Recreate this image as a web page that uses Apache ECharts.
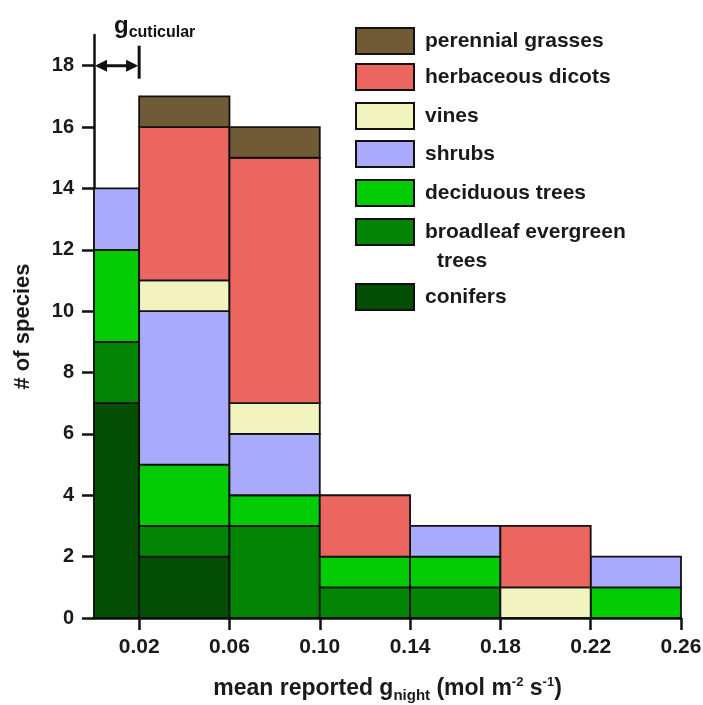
<!DOCTYPE html>
<html>
<head>
<meta charset="utf-8">
<script src="https://cdn.jsdelivr.net/npm/echarts@6/dist/echarts.min.js"></script>
<style>html,body{margin:0;padding:0;background:#fff;}#c{width:703px;height:705px;}</style>
</head>
<body>
<div id="c"></div>
<script>
// Bin edges (mol m-2 s-1)
const binStart = [0, 0.02, 0.06, 0.10, 0.14, 0.18, 0.22];
const binEnd   = [0.02, 0.06, 0.10, 0.14, 0.18, 0.22, 0.26];
// Species counts per bin, by type (stack order bottom -> top)
const conifers   = [7, 2, 0, 0, 0, 0, 0];
const broadleaf  = [2, 1, 3, 1, 1, 0, 0];
const deciduous  = [3, 2, 1, 1, 1, 0, 1];
const shrubs     = [2, 5, 2, 0, 1, 0, 1];
const vines      = [0, 1, 1, 0, 0, 1, 0];
const herbaceous = [0, 5, 8, 2, 0, 2, 0];
const grasses    = [0, 1, 1, 0, 0, 0, 0];
// Tick labels
const xTicks = [0.02, 0.06, 0.10, 0.14, 0.18, 0.22, 0.26];
const yTicks = [0, 2, 4, 6, 8, 10, 12, 14, 16, 18];
// g_cuticular annotation range
const cuticularRange = [0, 0.02];
const cuticularY = 18;

const FONT = 'Liberation Sans, Arial, sans-serif';

const types = [
  {name: 'conifers', label: 'conifers', values: conifers, color: '#044d04'},
  {name: 'broadleaf evergreen trees', label: 'broadleaf evergreen', label2: 'trees', values: broadleaf, color: '#048404'},
  {name: 'deciduous trees', label: 'deciduous trees', values: deciduous, color: '#04cc04'},
  {name: 'shrubs', label: 'shrubs', values: shrubs, color: '#aaaafc'},
  {name: 'vines', label: 'vines', values: vines, color: '#f2f4c0'},
  {name: 'herbaceous dicots', label: 'herbaceous dicots', values: herbaceous, color: '#ec6660'},
  {name: 'perennial grasses', label: 'perennial grasses', values: grasses, color: '#715b36'}
];

const base = binStart.map(() => 0);
const series = types.map(t => {
  const data = [];
  t.values.forEach((v, i) => {
    if (v > 0) data.push([binStart[i], binEnd[i], base[i], base[i] + v]);
    base[i] += v;
  });
  return {
    type: 'custom',
    name: t.name,
    itemStyle: {color: t.color},
    encode: {x: [0, 1], y: [2, 3]},
    data: data,
    renderItem: function (params, api) {
      const p0 = api.coord([api.value(0), api.value(3)]);
      const p1 = api.coord([api.value(1), api.value(2)]);
      return {
        type: 'rect',
        shape: {x: p0[0], y: p0[1], width: p1[0] - p0[0], height: p1[1] - p0[1]},
        style: {fill: t.color, stroke: '#111', lineWidth: 1.8}
      };
    }
  };
});

series.push({
  type: 'custom',
  name: 'annot',
  clip: false,
  silent: true,
  data: [[cuticularRange[0], cuticularRange[1], cuticularY]],
  encode: {x: [0, 1], y: 2},
  renderItem: function (params, api) {
    const a = api.coord([api.value(0), api.value(2)]);
    const b = api.coord([api.value(1), api.value(2)]);
    const y = a[1];
    const ah = 12, aw = 6;
    return {
      type: 'group',
      children: [
        {type: 'line', shape: {x1: b[0], y1: y - 20, x2: b[0], y2: y + 13}, style: {stroke: '#111', lineWidth: 3}},
        {type: 'line', shape: {x1: a[0] + 4, y1: y, x2: b[0] - 4, y2: y}, style: {stroke: '#111', lineWidth: 3}},
        {type: 'polygon', shape: {points: [[a[0] + 1, y], [a[0] + 1 + ah, y - aw], [a[0] + 1 + ah, y + aw]]}, style: {fill: '#111'}},
        {type: 'polygon', shape: {points: [[b[0] - 1, y], [b[0] - 1 - ah, y - aw], [b[0] - 1 - ah, y + aw]]}, style: {fill: '#111'}},
        {type: 'text', x: a[0] + 20, y: y - 39, style: {
          text: 'g{s|cuticular}', fill: '#111', fontFamily: FONT, fontWeight: 'bold', fontSize: 24,
          verticalAlign: 'middle',
          rich: {s: {fontSize: 16, fontWeight: 'bold', fontFamily: FONT, fill: '#111', padding: [12, 0, 0, 0]}}
        }}
      ]
    };
  }
});

const legendTops = [27, 63, 102, 140, 179, 218, 283];
const legendOrder = types.slice().reverse();
const legends = legendOrder.map((t, i) => ({
  left: 355,
  top: legendTops[i],
  padding: 0,
  itemWidth: 58,
  itemHeight: 26,
  selectedMode: false,
  icon: 'rect',
  formatter: () => t.label,
  textStyle: {fontFamily: FONT, fontWeight: 'bold', fontSize: 21, color: '#1a1a1a', padding: [0, 0, 0, 6]},
  data: [{name: t.name, itemStyle: {color: t.color, borderColor: '#111', borderWidth: 2}}]
}));
// second line of the wrapped legend label
const graphics = [];
legendOrder.forEach((t, i) => {
  if (t.label2) {
    graphics.push({type: 'text', left: 437, top: legendTops[i] + 33, silent: true,
      style: {text: t.label2, fontFamily: FONT, fontWeight: 'bold', fontSize: 21, fill: '#1a1a1a'}});
  }
});

const chart = echarts.init(document.getElementById('c'), null, {renderer: 'canvas'});
chart.setOption({
  animation: false,
  backgroundColor: '#fff',
  grid: {left: 94, right: 22, top: 35, bottom: 87, containLabel: false, outerBoundsMode: 'none'},
  legend: legends,
  graphic: graphics,
  xAxis: {
    type: 'value', min: 0, max: 0.26,
    axisLine: {show: true, onZero: false, lineStyle: {color: '#111', width: 2.5}},
    axisTick: {show: true, customValues: xTicks, length: 12, lineStyle: {color: '#111', width: 2.5}},
    axisLabel: {customValues: xTicks, margin: 19, formatter: v => v.toFixed(2),
      fontFamily: FONT, fontWeight: 'bold', fontSize: 21, color: '#1a1a1a'},
    splitLine: {show: false},
    name: 'mean reported g{sub|night} (mol m{sup|-2} s{sup|-1})',
    nameLocation: 'middle', nameGap: 56,
    nameTextStyle: {
      fontFamily: FONT, fontWeight: 'bold', fontSize: 23, color: '#1a1a1a',
      rich: {
        sub: {fontFamily: FONT, fontWeight: 'bold', fontSize: 15, color: '#1a1a1a', padding: [14, 0, 0, 0]},
        sup: {fontFamily: FONT, fontWeight: 'bold', fontSize: 13, color: '#1a1a1a', padding: [0, 0, 12, 0]}
      }
    }
  },
  yAxis: {
    type: 'value', min: 0, max: 19,
    axisLine: {show: true, lineStyle: {color: '#111', width: 2.5}},
    axisTick: {show: true, customValues: yTicks, length: 12, lineStyle: {color: '#111', width: 2.5}},
    axisLabel: {customValues: yTicks, margin: 20,
      fontFamily: FONT, fontWeight: 'bold', fontSize: 20, color: '#1a1a1a'},
    splitLine: {show: false},
    name: '# of species', nameLocation: 'middle', nameGap: 60, nameRotate: 90,
    nameTextStyle: {fontFamily: FONT, fontWeight: 'bold', fontSize: 22, color: '#1a1a1a'}
  },
  series: series
});
</script>
</body>
</html>
